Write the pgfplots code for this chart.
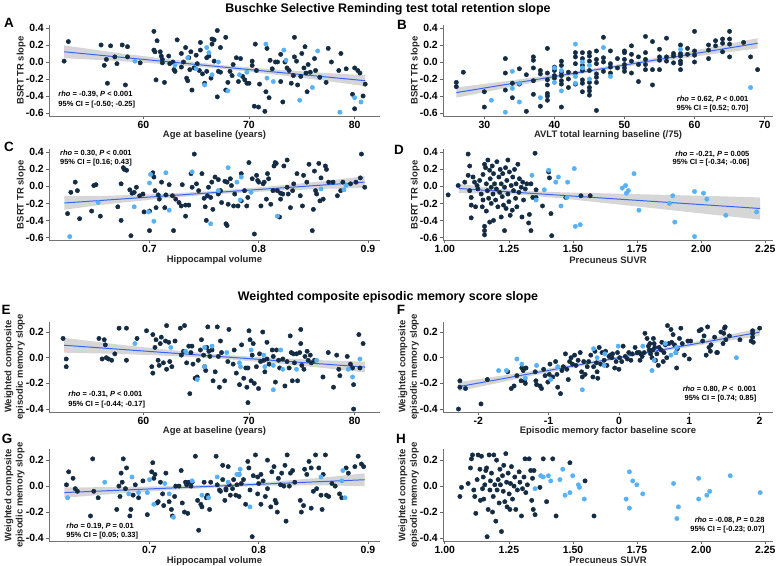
\documentclass[border=0pt]{standalone}
\usepackage{fontspec}
\setmainfont{Liberation Sans}
\usepackage{pgfplots}
\pgfplotsset{compat=1.18}
\definecolor{dk}{HTML}{132B43}
\definecolor{lt}{HTML}{56B1F7}
\definecolor{fit}{HTML}{3366FF}
\newcommand{\tickfont}{\fontsize{10.5}{12}\selectfont\bfseries}
\newcommand{\labfont}{\fontsize{9.5}{11.5}\selectfont\bfseries\color{black!85}}
\newcommand{\annfont}{\fontsize{7.5}{9}\selectfont\bfseries}
\pgfplotsset{
  panel/.style={scale only axis, axis x line*=bottom, axis y line*=left,
    axis line style={black!55, line width=0.9bp, -},
    tick align=outside, major tick length=3bp,
    tick style={black!60, line width=0.6bp},
    ticklabel style={font=\tickfont, inner sep=2bp},
    every axis x label/.style={at={(axis description cs:0.5,-0.214)}, anchor=center, font=\labfont},
    every axis y label/.style={at={(axis description cs:-0.084,0.5)}, rotate=90, anchor=center, font=\labfont, align=center},
    width=331bp},
  rowtop/.style={height=91bp, ymin=-0.635, ymax=0.435,
    ytick={-0.6,-0.4,-0.2,0,0.2,0.4}, yticklabels={-0.6,-0.4,-0.2,0.0,0.2,0.4}, ylabel={BSRT TR slope}},
  rowbot/.style={height=91bp, ymin=-0.423, ymax=0.282,
    ytick={-0.4,-0.2,0,0.2}, yticklabels={-0.4,-0.2,0.0,0.2},
    ylabel={Weighted composite\\episodic memory slope},
    every axis y label/.append style={at={(axis description cs:-0.104,0.5)}}},
  ageax/.style={xmin=51.07, xmax=82.4, xtick={60,70,80}, xticklabels={60,70,80}, xlabel={Age at baseline (years)}},
  hipax/.style={xmin=0.608, xmax=0.911, xtick={0.7,0.8,0.9}, xticklabels={0.7,0.8,0.9}, xlabel={Hippocampal volume}},
  suvax/.style={xmin=0.993, xmax=2.28, xtick={1,1.25,1.5,1.75,2,2.25}, xticklabels={1.00,1.25,1.50,1.75,2.00,2.25}, xlabel={Precuneus SUVR}},
  dkp/.style={only marks, mark=*, mark size=2.2bp, color=dk, mark options={draw=none, fill=dk}},
  ltp/.style={only marks, mark=*, mark size=2.2bp, color=lt, mark options={draw=none, fill=lt}},
  rib/.style={fill=black!40, fill opacity=0.4, draw=none},
  fitl/.style={color=fit, line width=1bp, no marks}
}
\begin{document}
\begin{tikzpicture}
\path[use as bounding box] (0,0) rectangle (777bp,566bp);
\node[font=\fontsize{12.5}{14}\selectfont\bfseries] at (388bp,557bp) {Buschke Selective Reminding test total retention slope};
\node[font=\fontsize{12.5}{14}\selectfont\bfseries] at (388bp,269bp) {Weighted composite episodic memory score slope};
\foreach \l/\x/\y in {A/9/543,B/402/541,C/9/419,D/399/416,E/6/256,F/401/256,G/7/127,H/401/127}{
  \node[font=\fontsize{13.5}{15}\selectfont\bfseries] at (\x bp,\y bp) {\l};}

% ---------------- A
\begin{axis}[panel, rowtop, ageax, at={(49bp,450bp)}, anchor=south west]
\addplot[dkp] coordinates {(52.5,0.01)(52.9,0.24)(56.0,0.20)(56.3,-0.04)(56.5,0.03)(56.6,-0.25)(56.9,0.19)(57.3,0.06)(57.5,-0.02)(58.0,0.20)(58.3,-0.27)(58.5,0.18)(58.5,0.06)(59.7,-0.01)(61.0,0.14)(61.0,0.36)(61.1,0.12)(61.2,-0.21)(61.3,0.25)(61.6,0.12)(61.7,0.07)(61.8,0.03)(61.8,-0.01)(62.0,-0.24)(62.4,0.07)(62.5,-0.02)(62.8,0.00)(62.9,-0.09)(63.0,-0.11)(63.2,0.26)(63.6,-0.06)(63.6,0.10)(63.8,0.00)(64.0,0.17)(64.1,-0.19)(64.2,-0.22)(64.3,0.05)(64.4,-0.09)(64.5,0.12)(64.6,-0.33)(64.8,-0.07)(65.0,0.08)(65.1,-0.02)(65.3,-0.10)(65.4,0.14)(65.4,0.23)(65.6,-0.14)(65.8,-0.25)(66.0,0.05)(66.0,-0.11)(66.2,0.07)(66.4,-0.19)(66.5,0.21)(66.5,0.27)(66.7,0.26)(66.7,0.01)(67.0,0.37)(67.0,-0.41)(67.1,-0.11)(67.3,-0.12)(67.3,0.17)(67.8,0.29)(67.8,-0.33)(68.0,-0.24)(68.2,-0.11)(68.4,-0.16)(68.5,-0.03)(68.8,0.05)(69.0,-0.23)(69.2,0.04)(69.4,-0.17)(69.6,-0.21)(69.8,-0.25)(70.0,-0.25)(70.3,0.01)(70.3,-0.04)(70.5,-0.52)(70.6,0.21)(70.7,-0.10)(70.9,-0.53)(71.0,-0.26)(71.5,-0.58)(71.6,-0.35)(71.7,0.16)(71.9,-0.42)(72.0,0.02)(72.2,-0.08)(72.5,0.00)(72.7,0.00)(73.0,-0.23)(73.0,0.09)(73.2,-0.47)(73.4,0.00)(73.6,-0.07)(73.8,-0.10)(74.0,-0.25)(74.2,-0.16)(74.3,0.29)(74.3,0.06)(74.5,0.01)(74.6,-0.27)(74.9,-0.17)(75.0,0.10)(75.2,-0.07)(75.3,0.18)(75.4,-0.13)(75.5,-0.35)(75.6,-0.03)(75.8,-0.12)(76.2,0.04)(76.3,-0.10)(76.7,-0.18)(77.3,-0.24)(77.5,0.16)(77.8,0.00)(78.5,-0.10)(78.7,0.10)(79.2,-0.08)(79.8,-0.38)(80.0,-0.07)(80.0,-0.55)(80.3,-0.10)(80.5,-0.13)(80.8,-0.40)(81.0,-0.26)};
\addplot[ltp] coordinates {(59.2,0.01)(63.0,-0.04)(64.2,0.05)(65.0,-0.08)(65.8,-0.27)(66.0,0.17)(66.2,0.11)(66.5,-0.15)(67.1,0.00)(68.0,-0.34)(69.1,-0.15)(69.8,-0.12)(71.6,0.21)(71.7,-0.19)(72.3,-0.23)(73.3,0.14)(73.5,0.02)(74.8,-0.45)(76.0,-0.30)(76.5,0.13)(78.6,-0.59)(80.0,-0.42)(80.6,-0.47)};
\addplot[rib] coordinates {(52.5,0.195)(58,0.099)(63,0.025)(67.5,-0.037)(72,-0.083)(77,-0.127)(81,-0.155)(81,-0.285)(77,-0.217)(72,-0.143)(67.5,-0.081)(63,-0.035)(58,0.009)(52.5,0.045)} -- cycle;
\addplot[fitl] coordinates {(52.5,0.12)(81,-0.22)};
\node[anchor=west, font=\annfont] at (rel axis cs:0.018,0.238) {\textit{rho} = -0.39, \textit{P} < 0.001};
\node[anchor=west, font=\annfont] at (rel axis cs:0.018,0.121) {95\% CI = [-0.50; -0.25]};
\end{axis}

% ---------------- B
\begin{axis}[panel, rowtop, at={(443bp,450bp)}, anchor=south west, width=330bp,
  xmin=24.1, xmax=71.2, xtick={30,40,50,60,70}, xticklabels={30,40,50,60,70}, xlabel={AVLT total learning baseline (/75)}]
\addplot[dkp] coordinates {(26,-0.24)(26,-0.29)(27,-0.12)(30,-0.35)(30,-0.53)(33,0.04)(33,-0.13)(33,-0.33)(34,-0.25)(34,-0.42)(35,-0.26)(35,-0.08)(36,-0.15)(36,-0.58)(37,0.06)(37,0.02)(37,-0.07)(37,-0.22)(37,-0.38)(38,-0.10)(38,-0.14)(38,-0.52)(39,0.16)(39,-0.13)(39,-0.27)(39,-0.21)(39,-0.37)(39,-0.40)(39,-0.45)(40,-0.06)(40,-0.10)(40,-0.16)(40,-0.19)(41,0.01)(41,-0.04)(41,-0.12)(41,-0.16)(41,-0.26)(41,-0.53)(41,-0.22)(42,-0.12)(42,-0.20)(42,-0.30)(43,0.11)(43,0.06)(43,-0.02)(43,-0.13)(43,-0.26)(44,0.11)(44,0.04)(44,-0.04)(44,-0.10)(44,-0.21)(44,-0.25)(44,-0.35)(45,0.11)(45,0.07)(45,0.01)(45,-0.10)(45,-0.24)(45,-0.30)(45,-0.34)(45,-0.39)(46,0.13)(46,0.03)(46,-0.02)(46,-0.14)(46,-0.18)(46,-0.24)(46,-0.57)(47,0.29)(47,0.05)(47,0.00)(47,-0.11)(48,0.13)(48,-0.02)(48,-0.06)(48,-0.13)(49,0.04)(49,-0.07)(50,0.13)(50,0.11)(50,0.03)(50,-0.03)(50,-0.07)(50,-0.11)(51,0.19)(51,0.09)(51,0.01)(51,-0.13)(52,0.06)(52,-0.03)(52,-0.23)(53,0.30)(53,0.11)(53,0.03)(53,-0.03)(53,-0.09)(54,0.24)(54,-0.09)(54,-0.27)(55,0.15)(55,0.06)(55,0.02)(55,-0.09)(56,0.28)(56,0.06)(56,0.01)(57,0.10)(57,0.07)(57,-0.01)(58,0.20)(58,0.10)(58,0.07)(58,0.01)(58,-0.02)(58,-0.09)(59,0.16)(59,0.09)(60,0.36)(60,0.13)(60,0.08)(60,0.00)(62,0.20)(62,0.14)(62,0.04)(63,0.25)(63,0.19)(64,0.27)(64,0.22)(64,0.12)(65,0.36)(65,0.27)(65,0.21)(65,0.06)(67,0.23)(68,0.06)(69,-0.09)};
\addplot[ltp] coordinates {(31,-0.45)(33,-0.59)(34,-0.11)(34,-0.31)(35,-0.47)(35,-0.25)(38,-0.42)(40,-0.07)(40,-0.24)(41,-0.10)(41,-0.34)(43,0.21)(43,-0.25)(43,-0.17)(44,0.00)(44,-0.07)(45,-0.04)(45,-0.20)(47,0.17)(48,-0.17)(58,0.15)(68,-0.30)};
\addplot[rib] coordinates {(26,-0.30)(33,-0.226)(40,-0.146)(47,-0.057)(54,0.043)(62,0.166)(69,0.28)(69,0.16)(62,0.086)(54,-0.007)(47,-0.097)(40,-0.196)(33,-0.306)(26,-0.42)} -- cycle;
\addplot[fitl] coordinates {(26,-0.36)(69,0.22)};
\node[anchor=east, font=\annfont] at (rel axis cs:0.936,0.184) {\textit{rho} = 0.62, \textit{P} < 0.001};
\node[anchor=east, font=\annfont] at (rel axis cs:0.936,0.085) {95\% CI = [0.52; 0.70]};
\end{axis}

% ---------------- C
\begin{axis}[panel, rowtop, hipax, at={(49bp,325.6bp)}, anchor=south west]
\addplot[dkp] coordinates {(0.625,-0.32)(0.628,-0.07)(0.632,0.05)(0.634,-0.05)(0.636,-0.38)(0.647,-0.29)(0.649,0.01)(0.651,0.02)(0.655,-0.35)(0.671,-0.24)(0.674,0.03)(0.674,-0.40)(0.676,0.22)(0.677,0.20)(0.679,0.19)(0.682,-0.04)(0.683,-0.58)(0.684,-0.08)(0.686,-0.07)(0.688,-0.01)(0.691,-0.11)(0.694,-0.09)(0.695,-0.30)(0.700,-0.29)(0.700,-0.52)(0.703,0.16)(0.704,0.11)(0.705,-0.05)(0.706,-0.25)(0.708,-0.10)(0.709,-0.15)(0.711,0.05)(0.714,-0.25)(0.715,-0.10)(0.718,0.02)(0.721,-0.11)(0.722,-0.52)(0.724,-0.15)(0.727,-0.19)(0.729,-0.23)(0.730,0.02)(0.733,-0.35)(0.733,-0.22)(0.736,-0.22)(0.738,0.15)(0.739,-0.01)(0.741,0.38)(0.743,0.03)(0.745,-0.05)(0.748,0.15)(0.750,-0.14)(0.751,-0.24)(0.752,-0.40)(0.753,-0.11)(0.754,-0.01)(0.756,-0.13)(0.757,0.05)(0.758,-0.27)(0.760,0.11)(0.763,-0.09)(0.763,0.08)(0.765,-0.05)(0.766,-0.19)(0.769,0.06)(0.770,-0.44)(0.771,-0.46)(0.771,0.05)(0.772,-0.21)(0.774,0.09)(0.775,0.01)(0.777,-0.23)(0.778,-0.09)(0.781,-0.23)(0.784,-0.17)(0.784,0.15)(0.787,-0.05)(0.789,-0.23)(0.790,-0.13)(0.791,0.28)(0.794,0.09)(0.796,-0.56)(0.798,0.13)(0.799,0.07)(0.800,0.05)(0.802,-0.23)(0.804,0.03)(0.805,0.05)(0.807,-0.15)(0.808,0.15)(0.809,0.09)(0.811,-0.21)(0.813,-0.05)(0.814,0.24)(0.815,0.28)(0.816,0.27)(0.817,-0.05)(0.819,-0.36)(0.820,-0.15)(0.820,-0.08)(0.822,-0.09)(0.823,0.24)(0.826,0.31)(0.826,-0.01)(0.827,-0.09)(0.829,-0.25)(0.831,-0.05)(0.832,0.03)(0.835,0.15)(0.838,-0.11)(0.840,-0.23)(0.841,0.13)(0.844,0.05)(0.846,0.26)(0.849,-0.52)(0.850,-0.27)(0.851,0.18)(0.852,-0.05)(0.853,-0.09)(0.855,0.27)(0.856,-0.17)(0.857,0.10)(0.859,-0.15)(0.861,0.24)(0.862,0.20)(0.864,0.05)(0.868,0.05)(0.872,-0.11)(0.875,-0.05)(0.877,0.05)(0.884,0.03)(0.889,0.05)(0.893,0.10)(0.894,0.38)(0.897,-0.01)};
\addplot[ltp] coordinates {(0.627,-0.59)(0.653,-0.19)(0.686,-0.24)(0.699,-0.30)(0.700,0.04)(0.701,0.14)(0.704,-0.41)(0.715,0.16)(0.718,-0.28)(0.739,0.17)(0.756,-0.44)(0.763,-0.05)(0.772,0.22)(0.780,0.05)(0.783,-0.16)(0.784,0.11)(0.793,-0.07)(0.817,-0.35)(0.857,-0.03)(0.878,-0.04)(0.880,0.01)};
\addplot[rib] coordinates {(0.622,-0.115)(0.66,-0.111)(0.71,-0.089)(0.76,-0.052)(0.81,0.0)(0.86,0.062)(0.897,0.12)(0.897,-0.02)(0.86,-0.028)(0.81,-0.056)(0.76,-0.092)(0.71,-0.145)(0.66,-0.211)(0.622,-0.275)} -- cycle;
\addplot[fitl] coordinates {(0.622,-0.195)(0.897,0.05)};
\node[anchor=west, font=\annfont] at (rel axis cs:0.023,0.96) {\textit{rho} = 0.30, \textit{P} < 0.001};
\node[anchor=west, font=\annfont] at (rel axis cs:0.023,0.86) {95\% CI = [0.16; 0.43]};
\end{axis}

% ---------------- D
\begin{axis}[panel, rowtop, suvax, at={(443bp,325.6bp)}, anchor=south west, width=330bp]
\addplot[dkp] coordinates {(1.013,-0.10)(1.052,0.01)(1.078,0.05)(1.091,0.38)(1.091,0.13)(1.097,0.24)(1.097,-0.05)(1.103,-0.13)(1.103,-0.22)(1.103,-0.37)(1.110,0.11)(1.116,0.05)(1.120,-0.24)(1.126,0.01)(1.129,-0.03)(1.136,0.07)(1.142,-0.09)(1.146,-0.24)(1.149,0.14)(1.149,-0.16)(1.155,0.26)(1.155,-0.47)(1.155,-0.52)(1.155,-0.57)(1.159,0.22)(1.162,0.03)(1.162,-0.29)(1.166,-0.05)(1.168,0.31)(1.171,-0.14)(1.175,0.19)(1.175,-0.42)(1.177,0.09)(1.181,-0.01)(1.181,-0.20)(1.185,0.24)(1.188,-0.09)(1.190,0.15)(1.190,-0.40)(1.194,0.03)(1.198,-0.16)(1.201,-0.03)(1.203,0.29)(1.207,-0.24)(1.211,0.11)(1.214,-0.07)(1.216,0.20)(1.220,-0.36)(1.220,0.03)(1.224,-0.12)(1.226,0.15)(1.229,-0.22)(1.233,-0.01)(1.233,-0.52)(1.237,0.22)(1.239,-0.26)(1.242,0.07)(1.246,0.31)(1.246,-0.09)(1.250,-0.18)(1.252,0.17)(1.255,-0.34)(1.259,0.01)(1.263,-0.28)(1.265,0.11)(1.268,-0.05)(1.272,0.20)(1.276,-0.14)(1.278,0.03)(1.281,-0.24)(1.285,0.26)(1.289,-0.07)(1.291,0.09)(1.298,-0.01)(1.301,-0.36)(1.304,0.05)(1.307,-0.16)(1.314,-0.03)(1.320,0.03)(1.327,-0.43)(1.330,-0.33)(1.336,-0.52)(1.336,0.03)(1.343,-0.13)(1.352,0.39)(1.356,-0.13)(1.356,-0.04)(1.381,-0.23)(1.405,0.17)(1.408,0.10)(1.414,-0.32)(1.417,-0.58)(1.472,-0.13)(1.531,-0.11)(1.567,-0.11)};
\addplot[ltp] coordinates {(1.340,0.13)(1.356,-0.16)(1.388,-0.04)(1.405,0.19)(1.433,0.05)(1.443,0.11)(1.453,-0.23)(1.479,0.05)(1.476,-0.13)(1.505,0.21)(1.509,-0.47)(1.528,-0.45)(1.692,-0.02)(1.705,0.01)(1.708,-0.08)(1.716,-0.05)(1.738,0.15)(1.757,-0.28)(1.876,-0.20)(1.889,-0.11)(1.897,-0.42)(1.974,-0.06)(1.974,-0.59)(2.009,-0.08)(2.022,-0.15)(2.096,-0.34)(2.216,-0.30)};
\addplot[rib] coordinates {(1.055,0.03)(1.2,-0.024)(1.3,-0.049)(1.45,-0.069)(1.65,-0.084)(1.85,-0.099)(2.05,-0.114)(2.23,-0.13)(2.23,-0.39)(2.05,-0.334)(1.85,-0.269)(1.65,-0.204)(1.45,-0.139)(1.3,-0.099)(1.2,-0.084)(1.055,-0.08)} -- cycle;
\addplot[fitl] coordinates {(1.055,-0.025)(2.23,-0.26)};
\node[anchor=east, font=\annfont] at (rel axis cs:0.939,0.95) {\textit{rho} = -0.21, \textit{P} = 0.005};
\node[anchor=east, font=\annfont] at (rel axis cs:0.939,0.85) {95\% CI = [-0.34; -0.06]};
\end{axis}

% ---------------- E
\begin{axis}[panel, rowbot, ageax, at={(49bp,154bp)}, anchor=south west, height=90.5bp]
\addplot[dkp] coordinates {(52.4,0.15)(52.7,-0.01)(52.7,-0.07)(55.8,0.15)(56.1,-0.01)(56.3,0.14)(56.4,0.10)(56.5,0.00)(56.7,-0.01)(57.0,-0.02)(57.3,0.03)(57.7,0.23)(58.4,0.23)(58.4,-0.02)(59.4,0.15)(60.3,0.21)(60.8,-0.07)(60.9,0.18)(60.9,-0.12)(61.1,0.08)(61.2,0.14)(61.4,-0.02)(61.5,-0.06)(61.6,0.11)(61.7,0.16)(61.9,-0.04)(62.1,0.13)(62.2,0.25)(62.2,-0.09)(62.4,0.12)(62.5,-0.03)(62.7,-0.07)(63.0,0.13)(63.5,0.23)(63.6,0.02)(63.8,0.05)(63.9,0.25)(64.1,-0.04)(64.3,0.09)(64.4,-0.28)(64.5,0.04)(64.6,0.09)(64.7,-0.05)(64.9,-0.16)(65.1,-0.15)(65.2,-0.02)(65.4,0.06)(65.5,0.14)(65.7,0.02)(65.8,-0.07)(65.9,-0.10)(66.0,0.08)(66.1,0.24)(66.2,0.05)(66.3,0.01)(66.5,0.06)(66.6,-0.18)(66.8,-0.11)(67.0,0.24)(67.1,0.01)(67.2,-0.23)(67.3,0.13)(67.4,0.04)(67.7,-0.18)(68.0,-0.03)(68.1,0.22)(68.5,-0.05)(68.6,0.06)(68.8,-0.12)(69.1,-0.21)(69.3,0.10)(69.5,-0.16)(69.7,-0.08)(69.8,-0.23)(69.9,-0.08)(69.9,-0.35)(70.0,0.21)(70.1,0.14)(70.2,-0.18)(70.3,0.02)(70.4,0.11)(70.5,-0.20)(70.7,-0.07)(70.9,-0.24)(71.0,0.03)(71.1,-0.03)(71.3,0.20)(71.4,-0.02)(71.5,-0.11)(71.7,0.12)(71.7,-0.01)(71.9,-0.05)(72.2,0.06)(72.3,0.01)(72.5,-0.19)(72.6,0.06)(72.8,-0.02)(72.9,-0.08)(73.2,-0.01)(73.4,-0.22)(73.6,-0.03)(73.8,-0.08)(73.9,0.17)(74.0,0.04)(74.1,-0.18)(74.2,0.03)(74.3,-0.04)(74.5,0.03)(74.6,-0.18)(74.8,0.04)(74.9,0.11)(74.9,0.22)(75.0,-0.06)(75.2,-0.09)(75.3,0.01)(75.5,0.05)(75.6,-0.02)(75.8,0.02)(75.9,-0.04)(76.2,-0.02)(77.0,-0.15)(77.5,0.04)(78.0,-0.23)(78.3,0.02)(78.5,-0.09)(78.6,-0.14)(79.3,0.01)(79.6,-0.05)(79.8,-0.08)(79.9,-0.21)(79.9,-0.40)(80.4,0.18)(80.5,-0.08)(80.8,0.11)};
\addplot[ltp] coordinates {(59.2,0.11)(62.6,0.08)(64.0,0.05)(65.1,-0.17)(65.8,0.08)(65.8,-0.07)(66.5,0.09)(67.9,0.04)(69.1,-0.04)(69.2,-0.07)(70.2,0.06)(71.4,0.02)(71.5,-0.07)(72.3,-0.25)(72.3,-0.06)(73.0,0.06)(73.2,-0.09)(74.5,-0.09)(76.4,-0.02)(79.4,-0.09)(79.8,-0.15)(80.5,-0.01)};
\addplot[rib] coordinates {(52.5,0.155)(58,0.099)(63,0.056)(67.5,0.023)(72,0.0)(77,-0.02)(81,-0.031)(81,-0.115)(77,-0.08)(72,-0.04)(67.5,-0.009)(63,0.012)(58,0.029)(52.5,0.039)} -- cycle;
\addplot[fitl] coordinates {(52.5,0.097)(81,-0.073)};
\node[anchor=west, font=\annfont] at (rel axis cs:0.048,0.194) {\textit{rho} = -0.31, \textit{P} < 0.001};
\node[anchor=west, font=\annfont] at (rel axis cs:0.048,0.086) {95\% CI = [-0.44; -0.17]};
\end{axis}

% ---------------- F
\begin{axis}[panel, rowbot, at={(443bp,154bp)}, anchor=south west, width=330bp, height=90.5bp,
  xmin=-2.5, xmax=2.19, xtick={-2,-1,0,1,2}, xticklabels={-2,-1,0,1,2}, xlabel={Episodic memory factor baseline score}]
\addplot[dkp] coordinates {(-2.28,-0.40)(-2.26,-0.18)(-2.26,-0.23)(-2.18,-0.24)(-1.96,-0.36)(-1.87,-0.17)(-1.58,-0.11)(-1.53,-0.24)(-1.49,-0.22)(-1.45,-0.14)(-1.39,-0.18)(-1.38,-0.08)(-1.36,-0.10)(-1.34,-0.18)(-1.33,-0.20)(-1.32,-0.08)(-1.19,-0.11)(-1.18,-0.18)(-1.17,-0.21)(-1.12,-0.22)(-1.10,-0.24)(-1.07,-0.09)(-1.05,-0.14)(-1.01,-0.19)(-0.99,-0.13)(-0.98,-0.05)(-0.94,-0.15)(-0.90,-0.03)(-0.88,-0.13)(-0.87,-0.23)(-0.83,-0.28)(-0.81,-0.10)(-0.79,-0.07)(-0.76,0.03)(-0.74,-0.09)(-0.72,-0.17)(-0.70,-0.03)(-0.68,0.00)(-0.66,-0.05)(-0.63,0.02)(-0.61,-0.06)(-0.58,-0.02)(-0.55,0.04)(-0.53,-0.11)(-0.52,-0.15)(-0.50,-0.03)(-0.48,-0.13)(-0.45,-0.07)(-0.43,-0.03)(-0.40,0.02)(-0.37,-0.15)(-0.36,-0.07)(-0.34,0.05)(-0.32,-0.04)(-0.31,-0.11)(-0.30,-0.16)(-0.28,0.08)(-0.26,-0.05)(-0.24,0.04)(-0.21,-0.02)(-0.19,0.05)(-0.17,-0.06)(-0.14,0.01)(-0.12,0.02)(-0.10,0.00)(-0.09,0.03)(-0.06,-0.08)(-0.04,-0.03)(-0.02,0.04)(0.00,-0.09)(0.01,0.00)(0.04,-0.03)(0.06,0.09)(0.09,0.01)(0.12,-0.01)(0.14,0.04)(0.17,-0.02)(0.19,0.03)(0.23,0.08)(0.26,0.04)(0.29,0.04)(0.30,-0.02)(0.31,0.03)(0.33,0.01)(0.36,0.04)(0.37,0.19)(0.40,0.15)(0.42,0.09)(0.43,0.06)(0.44,0.11)(0.45,0.03)(0.47,0.00)(0.48,0.06)(0.49,0.15)(0.50,0.11)(0.51,0.08)(0.52,-0.02)(0.54,0.03)(0.56,-0.06)(0.57,0.08)(0.60,0.06)(0.61,0.12)(0.63,-0.03)(0.64,0.04)(0.66,0.10)(0.68,0.00)(0.69,0.25)(0.71,0.11)(0.74,0.22)(0.75,0.12)(0.77,0.18)(0.79,0.10)(0.81,0.04)(0.82,-0.08)(0.83,0.07)(0.86,0.15)(0.88,0.23)(0.90,0.11)(0.93,0.02)(0.98,0.13)(1.00,-0.01)(1.02,0.13)(1.14,0.21)(1.17,0.22)(1.19,0.13)(1.21,0.17)(1.24,0.02)(1.26,0.24)(1.28,0.08)(1.30,0.05)(1.31,0.10)(1.36,0.16)(1.39,0.04)(1.40,0.04)(1.45,0.20)(1.48,0.11)(1.49,0.19)(1.50,0.23)(1.51,0.24)(1.52,0.14)(1.57,0.17)(1.72,0.14)(1.88,0.13)(1.90,0.21)(1.90,0.16)(1.91,0.12)(1.90,0.19)(2.00,0.23)};
\addplot[ltp] coordinates {(-1.71,-0.10)(-1.60,-0.10)(-1.45,-0.01)(-1.38,-0.05)(-1.33,-0.16)(-1.17,-0.06)(-0.97,-0.17)(-0.87,-0.07)(-0.52,-0.25)(-0.36,0.07)(-0.31,0.00)(-0.21,-0.06)(-0.20,0.03)(-0.01,0.09)(0.34,0.09)(0.47,-0.10)(0.50,-0.02)(0.66,0.11)(0.74,0.02)(0.81,0.04)(0.82,0.08)(1.67,0.00)};
\addplot[rib] coordinates {(-2.28,-0.191)(-1.2,-0.101)(0,0.010)(1.0,0.115)(2.0,0.229)(2.0,0.169)(1.0,0.085)(0,-0.010)(-1.2,-0.137)(-2.28,-0.261)} -- cycle;
\addplot[fitl] coordinates {(-2.28,-0.226)(2.0,0.199)};
\node[anchor=east, font=\annfont] at (rel axis cs:0.96,0.249) {\textit{rho} = 0.80, \textit{P} <\ \ 0.001};
\node[anchor=east, font=\annfont] at (rel axis cs:0.96,0.149) {95\% CI = [0.74; 0.85]};
\end{axis}

% ---------------- G
\begin{axis}[panel, rowbot, hipax, at={(49bp,25bp)}, anchor=south west, height=91.5bp]
\addplot[dkp] coordinates {(0.624,0.01)(0.626,0.11)(0.630,0.06)(0.632,-0.02)(0.634,-0.04)(0.646,-0.23)(0.648,0.21)(0.649,-0.04)(0.653,-0.09)(0.670,-0.18)(0.672,0.00)(0.673,-0.08)(0.674,0.10)(0.675,0.03)(0.676,0.21)(0.678,-0.02)(0.679,0.14)(0.682,-0.23)(0.683,-0.18)(0.685,-0.07)(0.687,0.01)(0.690,-0.09)(0.694,0.04)(0.698,-0.22)(0.702,0.11)(0.703,0.18)(0.704,0.06)(0.705,0.09)(0.707,-0.13)(0.708,-0.12)(0.710,0.03)(0.712,-0.06)(0.713,-0.15)(0.715,0.10)(0.718,-0.12)(0.720,-0.18)(0.721,-0.23)(0.723,-0.08)(0.724,0.00)(0.727,0.00)(0.729,0.12)(0.730,-0.13)(0.732,-0.20)(0.733,0.03)(0.734,0.01)(0.735,-0.21)(0.736,0.03)(0.738,0.00)(0.739,0.03)(0.742,0.23)(0.744,-0.11)(0.745,-0.34)(0.747,-0.14)(0.748,-0.16)(0.750,0.03)(0.752,-0.09)(0.753,-0.07)(0.755,-0.18)(0.756,0.03)(0.761,0.23)(0.762,0.01)(0.764,-0.03)(0.765,-0.04)(0.767,0.16)(0.767,0.05)(0.769,-0.11)(0.770,-0.03)(0.770,-0.02)(0.772,0.15)(0.773,0.01)(0.774,-0.07)(0.776,-0.02)(0.777,0.05)(0.779,-0.07)(0.780,0.01)(0.782,0.09)(0.782,-0.08)(0.784,0.02)(0.786,0.05)(0.788,-0.14)(0.790,0.19)(0.791,0.14)(0.792,-0.03)(0.794,-0.39)(0.795,0.08)(0.797,0.24)(0.799,0.07)(0.799,-0.06)(0.800,0.02)(0.802,-0.14)(0.802,0.09)(0.804,0.04)(0.806,-0.08)(0.808,0.20)(0.808,-0.02)(0.811,-0.16)(0.812,0.11)(0.814,0.15)(0.815,-0.11)(0.816,-0.13)(0.817,-0.20)(0.818,0.06)(0.820,0.01)(0.821,0.10)(0.823,0.00)(0.824,0.16)(0.825,-0.27)(0.826,0.24)(0.828,0.00)(0.829,0.10)(0.831,0.12)(0.833,0.03)(0.838,-0.11)(0.839,-0.20)(0.841,-0.15)(0.842,0.13)(0.844,0.09)(0.846,0.19)(0.848,-0.17)(0.848,0.14)(0.850,-0.04)(0.852,0.24)(0.853,-0.02)(0.855,0.14)(0.857,-0.07)(0.858,-0.18)(0.859,0.09)(0.861,0.24)(0.862,-0.07)(0.864,-0.08)(0.867,0.02)(0.870,0.00)(0.874,-0.06)(0.876,-0.09)(0.880,0.14)(0.882,0.10)(0.888,0.15)(0.891,0.23)(0.894,0.17)(0.896,0.15)};
\addplot[ltp] coordinates {(0.625,-0.09)(0.659,0.03)(0.681,-0.06)(0.684,0.07)(0.690,-0.05)(0.698,-0.05)(0.700,0.05)(0.704,-0.14)(0.714,0.02)(0.718,-0.06)(0.722,-0.24)(0.739,0.04)(0.748,-0.07)(0.754,-0.09)(0.762,0.07)(0.772,0.03)(0.780,0.09)(0.782,0.09)(0.783,0.13)(0.792,-0.16)(0.857,0.07)(0.876,0.04)(0.877,0.12)(0.879,-0.09)};
\addplot[rib] coordinates {(0.622,-0.010)(0.67,-0.008)(0.72,0.0)(0.76,0.012)(0.81,0.033)(0.86,0.066)(0.897,0.099)(0.897,-0.001)(0.86,0.006)(0.81,0.003)(0.76,-0.012)(0.72,-0.03)(0.67,-0.058)(0.622,-0.090)} -- cycle;
\addplot[fitl] coordinates {(0.622,-0.050)(0.897,0.049)};
\node[anchor=west, font=\annfont] at (rel axis cs:0.042,0.163) {\textit{rho} = 0.19, \textit{P} = 0.01};
\node[anchor=west, font=\annfont] at (rel axis cs:0.042,0.064) {95\% CI = [0.05; 0.33]};
\end{axis}

% ---------------- H
\begin{axis}[panel, rowbot, suvax, at={(443bp,25bp)}, anchor=south west, width=330bp, height=91.5bp]
\addplot[dkp] coordinates {(1.059,-0.08)(1.065,-0.01)(1.091,0.02)(1.100,0.14)(1.104,0.21)(1.108,0.24)(1.113,-0.03)(1.117,-0.08)(1.121,-0.21)(1.126,0.05)(1.130,0.24)(1.137,0.13)(1.139,-0.11)(1.143,0.23)(1.147,-0.02)(1.150,0.07)(1.152,-0.10)(1.156,0.01)(1.160,0.12)(1.163,0.14)(1.165,-0.39)(1.169,-0.18)(1.173,0.24)(1.176,-0.03)(1.178,0.04)(1.182,0.10)(1.186,-0.20)(1.189,-0.08)(1.191,0.24)(1.195,0.01)(1.199,-0.27)(1.202,0.20)(1.204,-0.03)(1.208,0.05)(1.212,-0.13)(1.215,0.13)(1.217,0.01)(1.221,-0.35)(1.225,0.08)(1.228,-0.04)(1.230,0.16)(1.234,-0.12)(1.238,0.25)(1.241,0.03)(1.243,-0.16)(1.247,0.10)(1.251,-0.06)(1.254,-0.18)(1.256,0.02)(1.260,0.15)(1.264,-0.10)(1.270,0.00)(1.273,0.07)(1.277,-0.18)(1.283,-0.03)(1.290,0.11)(1.293,0.03)(1.299,-0.23)(1.303,-0.02)(1.309,0.07)(1.313,0.21)(1.316,-0.05)(1.322,0.01)(1.329,0.21)(1.335,0.12)(1.339,-0.11)(1.342,0.06)(1.345,-0.18)(1.348,0.12)(1.352,-0.22)(1.371,-0.01)(1.384,0.21)(1.397,-0.12)(1.421,0.21)(1.434,-0.23)(1.488,0.18)(1.547,0.04)(1.582,-0.23)};
\addplot[ltp] coordinates {(1.352,-0.02)(1.374,0.08)(1.384,0.07)(1.404,0.08)(1.413,0.04)(1.449,0.05)(1.460,0.13)(1.469,-0.07)(1.488,-0.05)(1.499,0.08)(1.521,0.01)(1.525,-0.01)(1.544,-0.10)(1.707,-0.10)(1.720,0.11)(1.720,-0.17)(1.733,0.04)(1.749,0.01)(1.772,-0.06)(1.892,0.02)(1.905,-0.25)(1.911,-0.16)(1.990,0.06)(1.990,-0.10)(2.022,-0.07)(2.033,-0.04)(2.113,0.08)(2.230,-0.05)};
\node[anchor=east, font=\annfont] at (rel axis cs:0.985,0.228) {\textit{rho} = -0.08, \textit{P} = 0.28};
\node[anchor=east, font=\annfont] at (rel axis cs:0.985,0.126) {95\% CI = [-0.23; 0.07]};
\end{axis}
\end{tikzpicture}
\end{document}
